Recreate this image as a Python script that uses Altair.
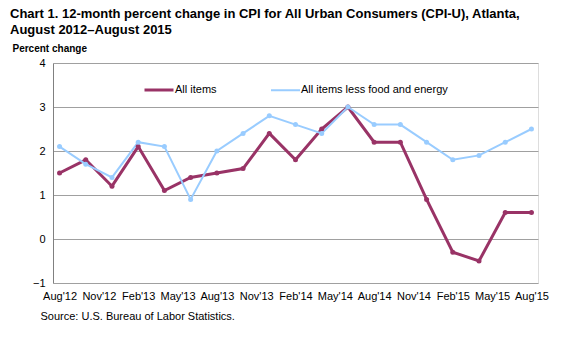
import json
import altair as alt
import pandas as pd

periods = ["Aug'12", "Oct'12", "Dec'12", "Feb'13", "Apr'13", "Jun'13", "Aug'13",
           "Oct'13", "Dec'13", "Feb'14", "Apr'14", "Jun'14", "Aug'14", "Oct'14",
           "Dec'14", "Feb'15", "Apr'15", "Jun'15", "Aug'15"]
month_index = [0, 2, 4, 6, 8, 10, 12, 14, 16, 18, 20, 22, 24, 26, 28, 30, 32, 34, 36]
all_items = [1.5, 1.8, 1.2, 2.1, 1.1, 1.4, 1.5, 1.6, 2.4, 1.8, 2.5, 3.0, 2.2, 2.2,
             0.9, -0.3, -0.5, 0.6, 0.6]
core_items = [2.1, 1.7, 1.4, 2.2, 2.1, 0.9, 2.0, 2.4, 2.8, 2.6, 2.4, 3.0, 2.6, 2.6,
              2.2, 1.8, 1.9, 2.2, 2.5]
tick_labels = ["Aug'12", "Nov'12", "Feb'13", "May'13", "Aug'13", "Nov'13", "Feb'14",
               "May'14", "Aug'14", "Nov'14", "Feb'15", "May'15", "Aug'15"]
series_names = ["All items", "All items less food and energy"]
colors = ["#993366", "#99CCFF"]

rows = []
for p, m, a, c in zip(periods, month_index, all_items, core_items):
    rows.append({"period": p, "m": m, "series": series_names[0], "value": a})
    rows.append({"period": p, "m": m, "series": series_names[1], "value": c})
df = pd.DataFrame(rows)

FONT = "Liberation Sans"
label_expr = json.dumps(tick_labels) + "[round(datum.value/3)]"

x = alt.X("m:Q",
          scale=alt.Scale(domain=[-0.5, 36.5], nice=False, zero=False),
          axis=alt.Axis(values=list(range(0, 37, 3)), labelExpr=label_expr,
                        grid=False, ticks=False, domain=False,
                        labelFont=FONT, labelFontSize=11, labelColor="#000000",
                        labelPadding=7,
                        title="Source: U.S. Bureau of Labor Statistics.",
                        titleFont=FONT, titleFontSize=11, titleFontWeight="normal",
                        titleColor="#000000", titleAnchor="start", titleAlign="left",
                        titleX=-13, titleY=27))
y = alt.Y("value:Q",
          scale=alt.Scale(domain=[-1, 4], nice=False),
          axis=alt.Axis(values=[-1, 0, 1, 2, 3, 4], grid=True, gridColor="#A0A0A0",
                        gridWidth=1, ticks=False, domain=True, domainColor="#808080",
                        labelFont=FONT, labelFontSize=11, labelColor="#000000",
                        labelPadding=8,
                        title="Percent change", titleFont=FONT, titleFontSize=10,
                        titleFontWeight="bold", titleColor="#000000", titleAngle=0,
                        titleAlign="left", titleBaseline="middle",
                        titleX=-41, titleY=-15))
color = alt.Color("series:N",
                  scale=alt.Scale(domain=series_names, range=colors),
                  legend=alt.Legend(orient="none", legendX=90, legendY=11,
                                    direction="horizontal", title=None,
                                    symbolType="stroke", symbolSize=841,
                                    symbolStrokeWidth=3, labelFont=FONT,
                                    labelFontSize=11, labelColor="#000000",
                                    labelOffset=0, columnPadding=50))

base = alt.Chart(df).encode(x=x, y=y, color=color)
lines = base.mark_line().encode(
    strokeWidth=alt.StrokeWidth("series:N",
                                scale=alt.Scale(domain=series_names, range=[3, 2]),
                                legend=None),
    order=alt.Order("m:Q"))
points = base.mark_point(filled=True, opacity=1, size=25)

chart = alt.layer(lines, points).properties(
    width=485, height=220,
    padding={"left": 53, "top": 63, "right": 32, "bottom": 65},
    autosize=alt.AutoSizeParams(type="none"),
    title=alt.TitleParams(
        text=["Chart 1. 12-month  percent change in CPI for All Urban Consumers  (CPI-U), Atlanta,",
              "August  2012\u2013August  2015"],
        anchor="start", frame="group", dx=-43, offset=6,
        font=FONT, fontSize=13, fontWeight="bold", color="#000000", lineHeight=16),
).configure_view(stroke="#000000", strokeWidth=1.5).configure(background="#FFFFFF")

chart.save("out.html", embed_options={"renderer": "svg", "actions": False})
